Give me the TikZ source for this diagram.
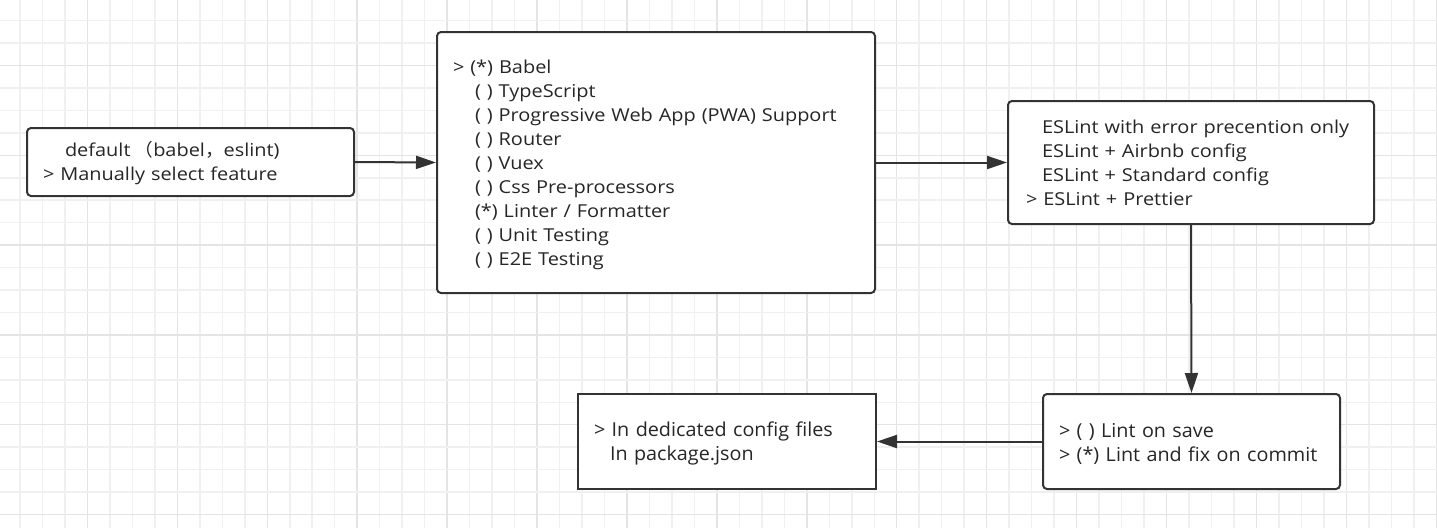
\documentclass[tikz,border=0pt]{standalone}
\usepackage{fontspec}
\setmainfont{Open Sans}[FakeStretch=1.12]
\newfontfamily\plainfont{Open Sans}[FakeStretch=1.03]
\newfontfamily\cjk{Noto Sans CJK SC}[FakeStretch=1.05]
\usetikzlibrary{arrows.meta}
\definecolor{gridminor}{HTML}{F0F0F0}
\definecolor{gridmajor}{HTML}{E4E4E4}
\definecolor{boxline}{HTML}{333333}
\newcommand\padtop[1]{\rule{0pt}{#1}}
\tikzset{
  box/.style={draw=boxline, line width=2pt, fill=white, rounded corners=4pt,
    align=left, inner xsep=16pt, inner ysep=0pt, anchor=center,
    font=\fontsize{17.8}{24}\selectfont, text=black!85},
  sqbox/.style={box, rounded corners=0pt},
  lowtext/.style={font=\plainfont\fontsize{19.2}{24}\selectfont},
  conn/.style={draw=boxline, line width=2pt, -{Triangle[length=20pt,width=13pt]}}
}
\begin{document}
\begin{tikzpicture}[x=1pt,y=-1pt]
\useasboundingbox (0,0) rectangle (1437,528);
\fill[white] (0,0) rectangle (1437,528);
% grid
\foreach \k in {0,...,63}{
  \pgfmathsetmacro{\xx}{20+22.48*\k}
  \pgfmathtruncatemacro{\m}{mod(\k,4)}
  \ifnum\m=3
    \draw[gridmajor, line width=1.5pt] (\xx,0) -- (\xx,528);
  \else
    \draw[gridminor, line width=1.5pt] (\xx,0) -- (\xx,528);
  \fi
}
\foreach \k in {0,...,23}{
  \pgfmathsetmacro{\yy}{20.6+22.45*\k}
  \pgfmathtruncatemacro{\m}{mod(\k,4)}
  \ifnum\m=2
    \draw[gridmajor, line width=1.5pt] (0,\yy) -- (1437,\yy);
  \else
    \draw[gridminor, line width=1.5pt] (0,\yy) -- (1437,\yy);
  \fi
}
% boxes
\node[box, text width=295pt, minimum height=68pt] (b1) at (190.5,162)
  {\padtop{17.5pt}\hspace*{22pt}default\hspace{4pt}{\cjk （}babel{\cjk ，}eslint)\\
   > Manually select feature};
\node[box, text width=406pt, minimum height=261pt] (b2) at (656,162.5)
  {\padtop{17.5pt}> (*) Babel\\
   \hspace*{22pt}( ) TypeScript\\
   \hspace*{22pt}( ) Progressive Web App (PWA) Support\\
   \hspace*{22pt}( ) Router\\
   \hspace*{22pt}( ) Vuex\\
   \hspace*{22pt}( ) Css Pre-processors\\
   \hspace*{22pt}(*) Linter / Formatter\\
   \hspace*{22pt}( ) Unit Testing\\
   \hspace*{22pt}( ) E2E Testing};
\node[box, inner xsep=18pt, text width=330pt, minimum height=123pt] (b3) at (1191,162.5)
  {\hspace*{16pt}ESLint with error precention only\\
   \hspace*{16pt}ESLint + Airbnb config\\
   \hspace*{16pt}ESLint + Standard config\\
   > ESLint + Prettier};
\node[sqbox, lowtext, text width=266pt, minimum height=95pt] (b4) at (727,441.5)
  {\padtop{18.8pt}> In dedicated config files\\
   \hspace*{16pt}In package.json};
\node[box, lowtext, text width=265pt, minimum height=95pt] (b5) at (1191.5,441.5)
  {\padtop{18.8pt}> ( ) Lint on save\\
   > (*) Lint and fix on commit};
% connectors
\draw[conn] (b1.east) -- (b2.west);
\draw[conn] (b2.east) -- (b3.west);
\draw[conn] (b3.south) -- (b5.north);
\draw[conn] (b5.west) -- (b4.east);
\end{tikzpicture}
\end{document}
